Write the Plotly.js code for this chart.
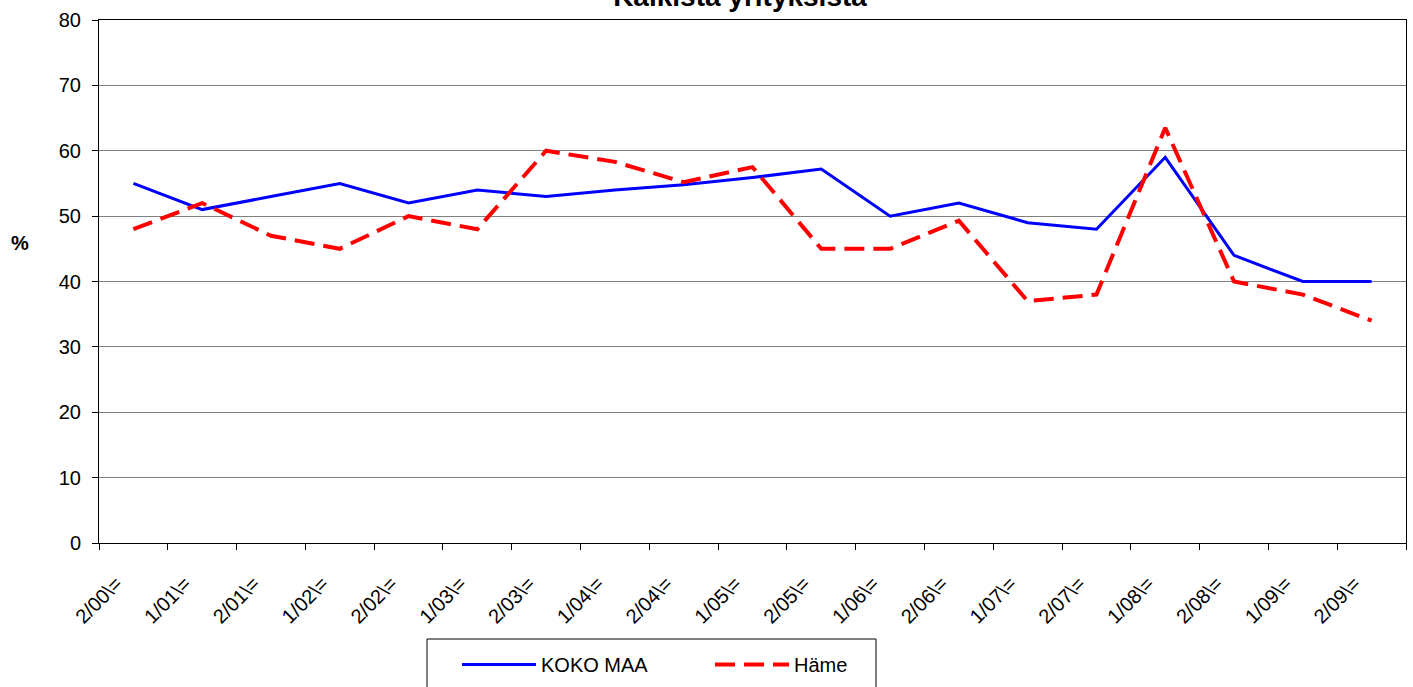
<!DOCTYPE html>
<html>
<head>
<meta charset="utf-8">
<script src="https://cdn.plot.ly/plotly-3.0.1.min.js"></script>
<style>html,body{margin:0;padding:0;background:#fff;} #chart{width:1413px;height:687px;}</style>
</head>
<body>
<div id="chart"></div>
<script>
// Data
var categories = ["2/00\\=", "1/01\\=", "2/01\\=", "1/02\\=", "2/02\\=", "1/03\\=", "2/03\\=", "1/04\\=", "2/04\\=", "1/05\\=", "2/05\\=", "1/06\\=", "2/06\\=", "1/07\\=", "2/07\\=", "1/08\\=", "2/08\\=", "1/09\\=", "2/09\\="];
var kokoMaa = [55, 51, 53, 55, 52, 54, 53, 54, 54.8, 55.9, 57.2, 50, 52, 49, 48, 59, 44, 40, 40];
var hame = [48, 52, 47, 45, 50, 48, 60, 58.3, 55.2, 57.5, 45, 45, 49.3, 37, 38, 63.5, 40, 38, 34];
var seriesNames = ["KOKO MAA", "Häme"];
var yTickValues = [0, 10, 20, 30, 40, 50, 60, 70, 80];
var titleText = "Kaikista yrityksistä";
var yLabel = "%";

var FONT = "Arial, 'Liberation Sans', sans-serif";

var traces = [
  {
    x: categories, y: kokoMaa, name: seriesNames[0], type: "scatter", mode: "lines",
    line: {color: "#0000FF", width: 3}
  },
  {
    x: categories, y: hame, name: seriesNames[1], type: "scatter", mode: "lines",
    line: {color: "#FF0000", width: 4, dash: "20px,9px"}
  }
];

var W = 1413, H = 687;
var L = 99, R = 7, T = 20, B = 144;
var pw = W - L - R, ph = H - T - B;
function px2x(p){ return (p - L) / pw; }
function px2y(p){ return (H - B - p) / ph; }

var layout = {
  width: W, height: H,
  margin: {l: L, r: R, t: T, b: B, autoexpand: false},
  paper_bgcolor: "#ffffff", plot_bgcolor: "#ffffff",
  font: {family: FONT, size: 20, color: "#000"},
  showlegend: true,
  title: {
    text: titleText,
    font: {family: FONT, size: 28, weight: "bold", color: "#000"},
    xref: "container", x: 740 / W, xanchor: "center",
    yref: "container", y: 1 - 6 / H, yanchor: "bottom"
  },
  xaxis: {
    type: "category",
    range: [-0.5, categories.length - 0.5],
    tickson: "boundaries",
    ticks: "outside", ticklen: 6, tickcolor: "#000", tickwidth: 1,
    showline: true, linecolor: "#000", linewidth: 1, mirror: true,
    showgrid: false, zeroline: false,
    tickangle: -45,
    tickfont: {family: FONT, size: 20, color: "#000"},
    ticklabelstandoff: 20,
    ticklabelshift: -17,
    fixedrange: true
  },
  yaxis: {
    range: [0, 80],
    tickvals: yTickValues,
    ticks: "outside", ticklen: 6, tickcolor: "#000", tickwidth: 1,
    showline: true, linecolor: "#000", linewidth: 1, mirror: true,
    showgrid: true, gridcolor: "#808080", gridwidth: 1,
    zeroline: false,
    tickfont: {family: FONT, size: 20, color: "#000"},
    ticklabelstandoff: 7,
    fixedrange: true
  },
  legend: {
    orientation: "h",
    x: px2x(457), xanchor: "left",
    y: px2y(645), yanchor: "top",
    bgcolor: "rgba(0,0,0,0)",
    borderwidth: 0,
    itemwidth: 74,
    entrywidth: 164, entrywidthmode: "pixels",
    font: {family: FONT, size: 20, color: "#000"}
  },
  shapes: [
    {
      type: "rect", xref: "paper", yref: "paper",
      x0: px2x(427), x1: px2x(876), y0: px2y(700), y1: px2y(639),
      line: {color: "#000", width: 1}, fillcolor: "rgba(0,0,0,0)"
    }
  ],
  annotations: [
    {
      text: yLabel, xref: "paper", yref: "paper",
      x: px2x(20), y: px2y(243), xanchor: "center", yanchor: "middle",
      showarrow: false, font: {family: FONT, size: 20, weight: "bold", color: "#000"}
    }
  ]
};

Plotly.newPlot("chart", traces, layout, {displayModeBar: false, staticPlot: true});
</script>
</body>
</html>
